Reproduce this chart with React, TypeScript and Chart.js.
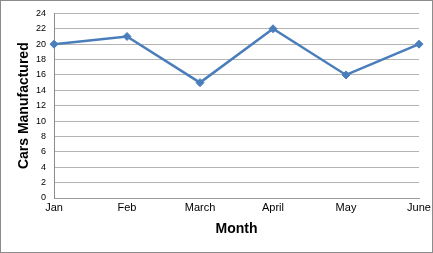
import React, { useEffect, useRef } from "react";
import { Chart, registerables } from "chart.js";

Chart.register(...registerables);

const months = ["Jan", "Feb", "March", "April", "May", "June"];
const carsManufactured = [20, 21, 15, 22, 16, 20];
const yMin = 0;
const yMax = 24;
const yStep = 2;

export default function App() {
  const canvasRef = useRef<HTMLCanvasElement | null>(null);

  useEffect(() => {
    if (!canvasRef.current) return;
    const font = "'Liberation Sans', Arial, sans-serif";
    const chart = new Chart(canvasRef.current, {
      type: "line",
      data: {
        labels: months,
        datasets: [
          {
            data: carsManufactured,
            borderColor: "#4a7ebb",
            backgroundColor: "#4a7ebb",
            borderWidth: 2.5,
            pointStyle: "rectRot",
            pointRadius: 4,
            pointBorderWidth: 1,
            tension: 0,
          },
        ],
      },
      options: {
        animation: false,
        responsive: false,
        maintainAspectRatio: false,
        layout: { padding: { top: 11, right: 0, left: 0, bottom: 0 } },
        plugins: {
          legend: { display: false },
          tooltip: { enabled: false },
        },
        scales: {
          x: {
            offset: false,
            grid: { display: false, drawTicks: false },
            border: { display: true, color: "#9a9a9a", width: 1 },
            ticks: {
              color: "#000",
              font: { family: font, size: 11 },
              padding: 3,
              maxRotation: 0,
              autoSkip: false,
            },
            title: {
              display: true,
              text: "Month",
              color: "#000",
              font: { family: font, size: 14, weight: "bold" },
              padding: { top: 0, bottom: 15 },
            },
            afterFit: (scale: any) => {
              scale.height = 55;
              scale.paddingRight = 14;
            },
          },
          y: {
            min: yMin,
            max: yMax,
            grid: { color: "#b4b4b4", drawTicks: false, lineWidth: 1 },
            border: { display: true, color: "#8c8c8c", width: 1 },
            ticks: {
              stepSize: yStep,
              color: "#000",
              font: { family: font, size: 9 },
              padding: 8,
            },
            title: {
              display: true,
              text: "Cars Manufactured",
              color: "#000",
              font: { family: font, size: 14, weight: "bold" },
              padding: { top: 16, bottom: 0 },
            },
            afterFit: (scale: any) => {
              scale.width = 54;
            },
          },
        },
      },
    });
    return () => chart.destroy();
  }, []);

  return (
    <div style={{ position: "absolute", left: 0, top: 0, width: 433, height: 253, background: "#fff" }}>
      <canvas ref={canvasRef} width={433} height={253} style={{ display: "block" }} />
      <div
        style={{
          position: "absolute",
          left: 0,
          top: 0,
          width: 433,
          height: 253,
          boxSizing: "border-box",
          border: "1px solid #8c8c8c",
          pointerEvents: "none",
        }}
      />
    </div>
  );
}
